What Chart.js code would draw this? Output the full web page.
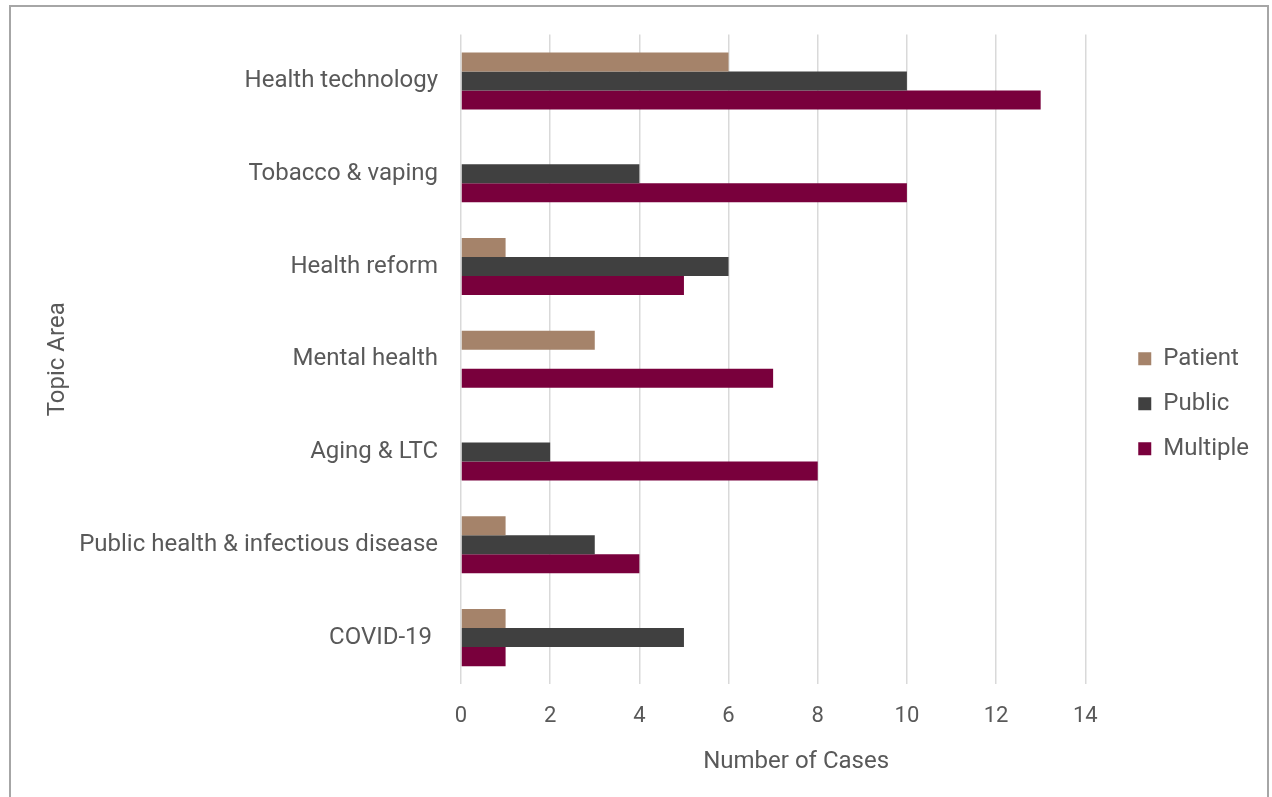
<!DOCTYPE html>
<html>
<head>
<meta charset="utf-8">
<script src="https://cdn.jsdelivr.net/npm/chart.js@4.4.0/dist/chart.umd.min.js"></script>
<style>
  html, body { margin: 0; padding: 0; background: #ffffff; overflow: hidden; }
  #frame { position: absolute; left: 9px; top: 5px; width: 1260px; height: 800px; border: 2px solid #a6a6a6; border-bottom: none; box-sizing: border-box; }
  #wrap { position: absolute; left: 11px; top: 7px; width: 1258px; height: 790px; }
</style>
</head>
<body>
<div id="frame"></div>
<div id="wrap"><canvas id="c"></canvas></div>
<script>
const categories = ["Health technology", "Tobacco & vaping", "Health reform", "Mental health", "Aging & LTC", "Public health & infectious disease", "COVID-19 "];
const patientValues = [6, 0, 1, 3, 0, 1, 1];
const publicValues = [10, 4, 6, 0, 2, 3, 5];
const multipleValues = [13, 10, 5, 7, 8, 4, 1];
const xTicks = [0, 2, 4, 6, 8, 10, 12, 14];
const xTitle = 'Number of Cases';
const yTitle = 'Topic Area';

const textColor = '#595959';
const font = { family: 'Roboto', size: 24 };
const tickFont = { family: 'Roboto', size: 22 };

const legendShift = {
  id: 'legendShift',
  afterLayout(chart) {
    const lg = chart.legend;
    if (lg) { lg.left += 32; lg.right += 32; lg.top -= 12; lg.bottom -= 12; }
  }
};

const xTitlePlugin = {
  id: 'xTitlePlugin',
  afterDraw(chart) {
    const ctx = chart.ctx, ca = chart.chartArea;
    ctx.save();
    ctx.font = `${font.size}px ${font.family}`;
    ctx.fillStyle = textColor;
    ctx.textAlign = 'center';
    ctx.textBaseline = 'middle';
    ctx.fillText(xTitle, (ca.left + ca.right) / 2 + 23, chart.height - 35);
    ctx.restore();
  }
};

new Chart(document.getElementById('c'), {
  type: 'bar',
  data: {
    labels: categories,
    datasets: [
      { label: 'Patient', data: patientValues, backgroundColor: '#a5836a' },
      { label: 'Public', data: publicValues, backgroundColor: '#404040' },
      { label: 'Multiple', data: multipleValues, backgroundColor: '#79003c' }
    ]
  },
  options: {
    indexAxis: 'y',
    responsive: true,
    maintainAspectRatio: false,
    animation: false,
    barPercentage: 1,
    categoryPercentage: 0.615,
    layout: { padding: { top: 27.6, right: 42, bottom: 0, left: 0 } },
    plugins: {
      legend: {
        position: 'right',
        labels: { color: textColor, font: font, boxWidth: 13, boxHeight: 13, padding: 21 }
      },
      tooltip: { enabled: false }
    },
    scales: {
      x: {
        min: 0, max: 14,
        afterBuildTicks(scale) { scale.ticks = xTicks.map(v => ({ value: v })); },
        grid: { color: '#d9d9d9', lineWidth: 1.5, drawTicks: false },
        border: { display: false },
        ticks: { color: textColor, font: tickFont, padding: 19 },
        title: { display: false, text: xTitle },
        afterFit(scale) { scale.height = 113; scale.paddingLeft = 0; scale.paddingRight = 0; }
      },
      y: {
        grid: { display: false, drawTicks: false },
        border: { display: false },
        ticks: { color: textColor, font: font, padding: 23 },
        title: { display: true, text: yTitle, color: textColor, font: font, padding: { top: 32.5, bottom: 0 } },
        afterFit(scale) { scale.width = 450; scale.paddingTop = 0; scale.paddingBottom = 0; }
      }
    }
  },
  plugins: [legendShift, xTitlePlugin]
});
</script>
</body>
</html>
